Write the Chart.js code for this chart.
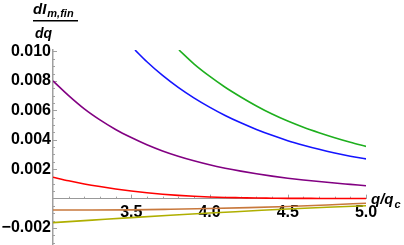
<!DOCTYPE html>
<html>
<head>
<meta charset="utf-8">
<script src="https://cdn.jsdelivr.net/npm/chart.js@4"></script>
<style>
  html, body { margin: 0; padding: 0; background: #fff; }
</style>
</head>
<body>
<canvas id="chart" width="404" height="245"></canvas>
<script>
// values
const qGreen = [3.805, 3.9, 4.0, 4.1, 4.2, 4.3, 4.4, 4.5, 4.6, 4.7, 4.8, 4.9, 5.0];
const dGreen = [0.0101, 0.00916, 0.00832, 0.00757, 0.00691, 0.0063, 0.00575, 0.00527, 0.00485, 0.00448, 0.00414, 0.00383, 0.00355];

const qBlue = [3.524, 3.6, 3.7, 3.8, 3.9, 4.0, 4.1, 4.2, 4.3, 4.4, 4.5, 4.6, 4.7, 4.8, 4.9, 5.0];
const dBlue = [0.0101, 0.0093, 0.00837, 0.00756, 0.00685, 0.00622, 0.00565, 0.00515, 0.0047, 0.0043, 0.00394, 0.00363, 0.00335, 0.0031, 0.00288, 0.0027];

const qFull = [3.0, 3.1, 3.2, 3.3, 3.4, 3.5, 3.6, 3.7, 3.8, 3.9, 4.0, 4.1, 4.2, 4.3, 4.4, 4.5, 4.6, 4.7, 4.8, 4.9, 5.0];
const dPurple = [0.0080, 0.0070, 0.0061, 0.00535, 0.0047, 0.00415, 0.00366, 0.00324, 0.00288, 0.00257, 0.0023, 0.00207, 0.00187, 0.00169, 0.00153, 0.00139, 0.00127, 0.00116, 0.00106, 0.00097, 0.00088];
const dRed = [0.00146, 0.00121, 0.001, 0.00082, 0.00066, 0.00052, 0.0004, 0.0003, 0.00022, 0.00016, 0.00011, 0.00008, 0.00006, 0.00004, 0.00003, 0.00002, 0.00002, 0.00001, 0.00001, 0.00001, 0.00001];

const qQuarter = [3.0, 3.25, 3.5, 3.75, 4.0, 4.25, 4.5, 4.75, 5.0];
const dBrown = [-0.00077, -0.00077, -0.00076, -0.00072, -0.00067, -0.00061, -0.00053, -0.00043, -0.00031];
const dOlive = [-0.00163, -0.00146, -0.00129, -0.00113, -0.00098, -0.00084, -0.0007, -0.00058, -0.00048];

const xTickValues = [3.5, 4.0, 4.5, 5.0];
const xTickLabels = ["3.5", "4.0", "4.5", "5.0"];
const yTickValues = [-0.002, 0.002, 0.004, 0.006, 0.008, 0.010];
const yTickLabels = ["\u22120.002", "0.002", "0.004", "0.006", "0.008", "0.010"];

const fontFamily = "'Liberation Sans', Arial, sans-serif";

function toPoints(qs, ds) {
  return qs.map((q, i) => ({ x: q, y: ds[i] }));
}

function line(qs, ds, color) {
  return {
    data: toPoints(qs, ds),
    borderColor: color,
    borderWidth: 1.6,
    pointRadius: 0,
    fill: false,
    cubicInterpolationMode: "monotone"
  };
}

// small inward ticks and the axis titles
const axisDecor = {
  id: "axisDecor",
  beforeDatasetsDraw(chart) {
    const { ctx, scales } = chart;
    const x = scales.x, y = scales.y;
    const axisX = x.getPixelForValue(3);
    const axisY = y.getPixelForValue(0);
    ctx.save();
    ctx.strokeStyle = "#a0a0a0";
    ctx.lineWidth = 1;
    ctx.beginPath();
    for (let i = 31; i <= 50; i++) {
      const px = Math.round(x.getPixelForValue(i / 10)) + 0.5;
      const len = i % 5 === 0 ? 4 : 2;
      ctx.moveTo(px, axisY);
      ctx.lineTo(px, axisY - len);
    }
    for (let i = -6; i <= 20; i++) {
      if (i === 0) continue;
      const py = Math.round(y.getPixelForValue(i * 0.0005)) + 0.5;
      const len = i % 4 === 0 ? 4 : 2;
      ctx.moveTo(axisX, py);
      ctx.lineTo(axisX + len, py);
    }
    ctx.stroke();
    ctx.restore();
  },
  afterDraw(chart) {
    const { ctx, scales } = chart;
    const axisY = scales.y.getPixelForValue(0);
    const right = scales.x.right;
    ctx.save();
    ctx.fillStyle = "#000";
    ctx.textBaseline = "alphabetic";
    ctx.textAlign = "left";

    // x axis title q/q_c
    ctx.font = "italic bold 15px " + fontFamily;
    ctx.fillText("q/q", right + 5, axisY + 5);
    const w = ctx.measureText("q/q").width;
    ctx.font = "italic bold 11px " + fontFamily;
    ctx.fillText("c", right + 5 + w + 1, axisY + 9);

    // y axis title dI_{m,fin} / dq
    ctx.font = "italic bold 15px " + fontFamily;
    ctx.fillText("dI", 33, 14);
    const w2 = ctx.measureText("dI").width;
    ctx.font = "italic bold 11px " + fontFamily;
    ctx.fillText("m,fin", 33 + w2 + 1, 17);
    ctx.fillRect(33, 20, 45, 1.5);
    ctx.font = "italic bold 14px " + fontFamily;
    ctx.fillText("dq", 35, 38);
    ctx.restore();
  }
};

new Chart(document.getElementById("chart"), {
  type: "line",
  data: {
    datasets: [
      line(qGreen, dGreen, "rgb(30,175,30)"),
      line(qBlue, dBlue, "rgb(20,20,255)"),
      line(qFull, dPurple, "rgb(130,0,130)"),
      line(qFull, dRed, "rgb(255,0,0)"),
      line(qQuarter, dBrown, "rgb(200,120,60)"),
      line(qQuarter, dOlive, "rgb(175,175,0)")
    ]
  },
  options: {
    responsive: false,
    animation: false,
    devicePixelRatio: 1,
    layout: { padding: { top: 50, right: 38, bottom: 0, left: 0 } },
    plugins: { legend: { display: false }, tooltip: { enabled: false } },
    scales: {
      x: {
        type: "linear",
        min: 3,
        max: 5,
        position: { y: 0 },
        afterBuildTicks: s => { s.ticks = xTickValues.map(v => ({ value: v })); },
        afterFit: s => { s.paddingLeft = 0; s.paddingRight = 0; },
        grid: { display: false, drawTicks: false },
        border: { display: true, color: "#999", width: 1 },
        ticks: {
          autoSkip: false,
          maxRotation: 0,
          padding: 4,
          color: "#000",
          font: { family: fontFamily, size: 16, weight: "bold" },
          callback: (v, i) => xTickLabels[i]
        }
      },
      y: {
        type: "linear",
        min: -0.00315,
        max: 0.0101,
        position: "left",
        afterBuildTicks: s => { s.ticks = yTickValues.map(v => ({ value: v })); },
        afterFit: s => { s.width = 53; s.paddingTop = 0; s.paddingBottom = 0; },
        grid: { display: false, drawTicks: false },
        border: { display: true, color: "#a0a0a0", width: 1.5 },
        ticks: {
          autoSkip: false,
          padding: 2,
          color: "#000",
          font: { family: fontFamily, size: 16, weight: "bold" },
          callback: (v, i) => yTickLabels[i]
        }
      }
    }
  },
  plugins: [axisDecor]
});
</script>
</body>
</html>
